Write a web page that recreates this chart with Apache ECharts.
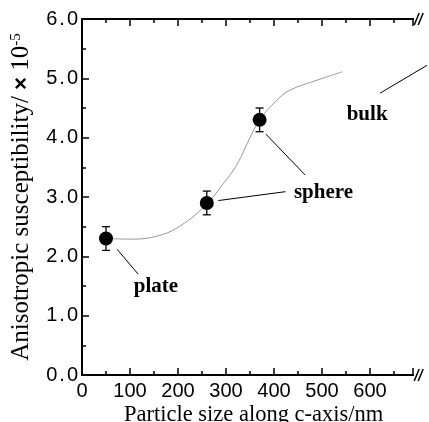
<!DOCTYPE html>
<html><head><meta charset="utf-8">
<script src="https://cdn.jsdelivr.net/npm/echarts@6/dist/echarts.min.js"></script>
<style>html,body{margin:0;padding:0;background:#fff}#c{width:429px;height:422px}</style>
</head><body><div id="c"></div>
<script>
// measured points
const sizes = [50, 260, 370];
const susc = [2.3, 2.9, 4.3];
const errs = [0.2, 0.2, 0.2];
// guide curve
const curveX = [50, 106, 156, 198, 254, 294, 323, 350, 371, 406, 433, 490, 542];
const curveY = [2.30, 2.29, 2.34, 2.48, 2.83, 3.22, 3.55, 4.00, 4.31, 4.63, 4.80, 4.97, 5.11];
// x tick labels
const xTickLabels = [0, 100, 200, 300, 400, 500, 600];
const xTitle = 'Particle size along c-axis/nm';
// annotations (data coordinates)
const labelText = ['plate', 'sphere', 'bulk'];
const labelAt = [[154, 1.49], [503, 3.08], [594, 4.39]];
const leaderFrom = [[73, 2.12], [284, 2.94], [383, 4.06], [621, 4.75]];
const leaderTo = [[117, 1.70], [424, 3.09], [465, 3.37], [719, 5.22]];

const chart = echarts.init(document.getElementById('c'), null, {renderer: 'canvas'});
const black = '#000';
const sans = 'Liberation Sans, Arial, sans-serif';
const serif = 'Liberation Serif, Times New Roman, serif';

function xAx(pos, withLabel) {
  return {
    type: 'value', position: pos, min: 0, max: 690, interval: 100,
    axisLine: {show: true, onZero: false, lineStyle: {color: black, width: 2}},
    axisTick: {show: true, inside: true, length: 7, lineStyle: {color: black, width: 1.5}},
    minorTick: {show: true, splitNumber: 2, length: 4, lineStyle: {color: black, width: 1.5}},
    axisLabel: {
      show: withLabel, margin: 6, color: black, fontFamily: sans, fontSize: 20,
      formatter: v => xTickLabels.indexOf(v) >= 0 ? String(v) : ''
    },
    splitLine: {show: false}
  };
}

const option = {
  animation: false,
  backgroundColor: '#fff',
  grid: {left: 82, top: 19, right: 15.8, bottom: 47},
  xAxis: [xAx('bottom', true), xAx('top', false)],
  yAxis: [{
    type: 'value', min: 0, max: 6, interval: 1, position: 'left',
    axisLine: {show: true, onZero: false, lineStyle: {color: black, width: 2}},
    axisTick: {show: true, inside: true, length: 7, lineStyle: {color: black, width: 1.5}},
    minorTick: {show: true, splitNumber: 2, length: 4, lineStyle: {color: black, width: 1.5}},
    axisLabel: {
      color: black, fontFamily: sans, fontSize: 20, margin: 4,
      formatter: v => { const s = v.toFixed(1).split('.'); return '{d|' + s[0] + '}{p|.}{d|' + s[1] + '}'; },
      rich: {
        d: {fontFamily: sans, fontSize: 20, color: black},
        p: {fontFamily: sans, fontSize: 20, color: black, padding: [0, 2, 0, 2]}
      }
    },
    splitLine: {show: false},
    name: 'Anisotropic susceptibility/ {x|×} 10{s|-5}',
    nameLocation: 'middle', nameGap: 48, nameRotate: 90,
    nameTextStyle: {
      fontFamily: serif, fontSize: 25, color: black,
      rich: {
        x: {fontFamily: sans, fontWeight: 'bold', fontSize: 22, color: black},
        s: {fontFamily: serif, fontSize: 15, color: black, verticalAlign: 'top', lineHeight: 15}
      }
    }
  }],
  series: [
    {
      type: 'line', xAxisIndex: 0, yAxisIndex: 0, smooth: 0.4, symbol: 'none', z: 1,
      data: curveX.map((x, i) => [x, curveY[i]]),
      lineStyle: {color: '#999', width: 1}
    },
    {
      type: 'custom', xAxisIndex: 0, yAxisIndex: 0, z: 3,
      data: sizes.map((x, i) => [x, susc[i] - errs[i], susc[i] + errs[i]]),
      renderItem: function (params, api) {
        const x = api.value(0);
        const p1 = api.coord([x, api.value(2)]);
        const p2 = api.coord([x, api.value(1)]);
        const w = 4;
        const st = {stroke: black, lineWidth: 1.3};
        return {type: 'group', children: [
          {type: 'line', shape: {x1: p1[0], y1: p1[1], x2: p2[0], y2: p2[1]}, style: st},
          {type: 'line', shape: {x1: p1[0] - w, y1: p1[1], x2: p1[0] + w, y2: p1[1]}, style: st},
          {type: 'line', shape: {x1: p2[0] - w, y1: p2[1], x2: p2[0] + w, y2: p2[1]}, style: st}
        ]};
      }
    },
    {
      type: 'scatter', xAxisIndex: 0, yAxisIndex: 0, z: 4, symbol: 'circle', symbolSize: 14,
      data: sizes.map((x, i) => [x, susc[i]]),
      itemStyle: {color: black, opacity: 1}
    }
  ]
};
chart.setOption(option);

const px = p => chart.convertToPixel({xAxisIndex: 0, yAxisIndex: 0}, p);
const g = [];
leaderFrom.forEach((a, i) => {
  const p = px(a), q = px(leaderTo[i]);
  g.push({type: 'line', shape: {x1: p[0], y1: p[1], x2: q[0], y2: q[1]}, style: {stroke: black, lineWidth: 1}});
});
labelText.forEach((t, i) => {
  const p = px(labelAt[i]);
  g.push({type: 'text', x: p[0], y: p[1], style: {text: t, fill: black, font: 'bold 21px ' + serif, align: 'center', verticalAlign: 'middle'}});
});
// x-axis title (clipped at the bottom edge as in the original)
const o = px([0, 0]), e0 = px([690, 0]);
g.push({type: 'text', x: (o[0] + e0[0]) / 2 + 6, y: o[1] + 29, style: {text: xTitle, fill: black, font: '22.5px ' + serif, align: 'center', verticalAlign: 'top'}});
// axis break marks at the right end of the top and bottom axes
[px([690, 6]), px([690, 0])].forEach(e => {
  [1, 5].forEach(d => {
    g.push({type: 'line', shape: {x1: e[0] + d, y1: e[1] + 6, x2: e[0] + d + 5, y2: e[1] - 6}, style: {stroke: black, lineWidth: 1.5}});
  });
});
chart.setOption({graphic: g});
</script>
</body></html>
